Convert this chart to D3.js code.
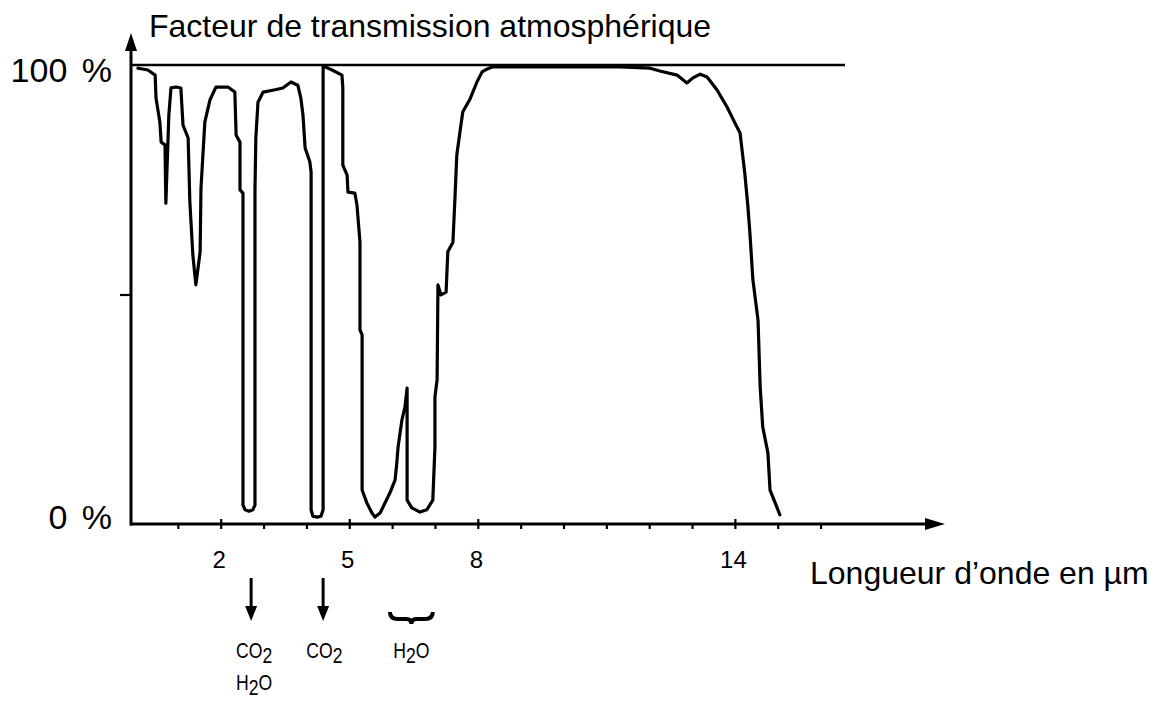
<!DOCTYPE html>
<html>
<head>
<meta charset="utf-8">
<script src="https://cdn.jsdelivr.net/npm/d3@7"></script>
<style>
  html, body { margin: 0; padding: 0; background: #fff; }
  svg { display: block; }
  text { font-family: "Liberation Sans", Arial, sans-serif; fill: #000; }
</style>
</head>
<body>
<svg id="chart" width="1167" height="702"></svg>
<script>
// ---- data ----
const wavelength = [0.07,0.30,0.47,0.49,0.58,0.61,0.70,0.72,0.79,0.84,0.96,1.07,1.12,1.24,1.28,1.35,1.42,1.52,1.54,1.63,1.75,1.89,2.17,2.33,2.36,2.45,2.45,2.52,2.52,2.57,2.66,2.75,2.80,2.80,2.82,2.87,2.99,3.27,3.45,3.64,3.80,3.87,3.92,3.97,4.08,4.11,4.11,4.15,4.25,4.34,4.39,4.39,4.43,4.60,4.83,4.85,4.85,4.95,4.97,5.13,5.18,5.25,5.25,5.30,5.30,5.41,5.53,5.60,5.72,5.95,6.07,6.11,6.14,6.23,6.30,6.35,6.35,6.46,6.65,6.81,6.95,7.00,7.00,7.05,7.07,7.14,7.26,7.30,7.42,7.47,7.51,7.58,7.65,7.82,7.98,8.10,8.21,8.35,8.98,11.32,12.02,12.25,12.65,12.88,13.02,13.19,13.35,13.58,13.82,14.00,14.12,14.23,14.30,14.35,14.42,14.54,14.59,14.65,14.77,14.82,14.94,15.05];
const transmission = [99.3,98.9,97.8,92.8,87.6,83.2,82.6,69.9,89.1,95.0,95.2,95.0,86.9,84.1,70.2,58.6,52.1,59.3,73.2,87.6,92.4,95.2,95.2,94.1,84.7,83.2,72.8,72.1,4.1,3.1,2.8,3.1,4.1,72.8,84.1,91.9,94.1,94.6,95.0,96.3,95.6,92.8,89.1,81.9,78.9,76.7,3.1,1.7,1.5,1.7,3.1,99.8,99.6,98.9,97.8,95.0,78.2,76.0,72.3,72.1,69.5,61.4,42.3,41.2,7.4,4.6,2.4,1.5,2.4,6.8,9.6,13.3,16.8,22.7,25.5,29.6,5.2,3.5,2.6,3.1,5.2,16.8,27.7,31.4,52.1,49.9,50.5,59.3,61.4,71.7,80.4,85.2,89.8,92.6,96.3,98.5,99.1,99.6,99.6,99.6,99.3,98.7,97.8,96.1,97.2,98.0,97.4,94.6,90.8,87.4,85.2,76.5,69.5,63.4,53.2,44.4,29.8,21.1,15.5,7.4,4.6,2.0];
const minorTicks = [1,2,3,4,5,6,7,8,9,10,11,12,13,14,15,16];
const majorTicks = [2,5,8,14];
const yTickValues = [0, 100];
const yTickLabels = ["0 %", "100 %"];
const yMidTick = [50];
const titleText = "Facteur de transmission atmosphérique";
const xAxisTitle = "Longueur d’onde en µm";
const arrowBands = [2.71, 4.39];           // single absorption lines
const braceBand = [5.95, 6.95];            // H2O band
const bandLabels = [
  { x: 2.78, lines: [["CO", "2", ""], ["H", "2", "O"]] },
  { x: 4.42, lines: [["CO", "2", ""]] },
  { x: 6.45, lines: [["H", "2", "O"]] }
];

// ---- layout ----
const svg = d3.select("#chart");
const x = d3.scaleLinear().domain([0, 16]).range([135, 820.6]);
const y = d3.scaleLinear().domain([0, 100]).range([524, 65]);
const axisLeftX = 131;
const xAxisEnd = 945;
const yAxisTop = 33;

// 100 % reference line
svg.append("line")
  .attr("x1", axisLeftX).attr("x2", 845)
  .attr("y1", y(100)).attr("y2", y(100))
  .attr("stroke", "#000").attr("stroke-width", 2.6);

// x axis line + arrow
svg.append("line")
  .attr("x1", axisLeftX - 1).attr("x2", xAxisEnd - 15)
  .attr("y1", y(0)).attr("y2", y(0))
  .attr("stroke", "#000").attr("stroke-width", 3);
svg.append("path")
  .attr("d", `M${xAxisEnd},${y(0)} L${xAxisEnd - 20},${y(0) - 6} L${xAxisEnd - 20},${y(0) + 6} Z`)
  .attr("fill", "#000");

// y axis line + arrow
svg.append("line")
  .attr("x1", axisLeftX).attr("x2", axisLeftX)
  .attr("y1", y(0) + 1.5).attr("y2", yAxisTop + 14)
  .attr("stroke", "#000").attr("stroke-width", 3);
svg.append("path")
  .attr("d", `M${axisLeftX},${yAxisTop} L${axisLeftX - 6},${yAxisTop + 18} L${axisLeftX + 6},${yAxisTop + 18} Z`)
  .attr("fill", "#000");

// ticks on x axis
const minorAxis = svg.append("g")
  .attr("transform", `translate(0,${y(0)})`)
  .call(d3.axisBottom(x).tickValues(minorTicks).tickSize(5).tickFormat(""));
minorAxis.select(".domain").remove();
minorAxis.selectAll("line").attr("stroke-width", 2.2);

const majorUp = svg.append("g")
  .attr("transform", `translate(0,${y(0)})`)
  .call(d3.axisTop(x).tickValues(majorTicks).tickSize(5).tickFormat(""));
majorUp.select(".domain").remove();
majorUp.selectAll("line").attr("stroke-width", 2.2);

const labelAxis = svg.append("g")
  .attr("transform", `translate(0,${y(0)})`)
  .call(d3.axisBottom(x).tickValues(majorTicks).tickSize(0).tickFormat(d3.format("d")));
labelAxis.select(".domain").remove();
labelAxis.selectAll("text")
  .attr("font-size", 24)
  .attr("font-family", "Liberation Sans, Arial, sans-serif")
  .attr("dy", 0)
  .attr("dx", -2)
  .attr("y", 44);

// y mid tick
const yAxisG = svg.append("g")
  .attr("transform", `translate(${axisLeftX},0)`)
  .call(d3.axisLeft(y).tickValues(yMidTick).tickSize(11).tickFormat(""));
yAxisG.select(".domain").remove();
yAxisG.selectAll("line").attr("stroke-width", 2.2);

// y tick labels
svg.selectAll(".ylab").data(yTickValues).enter().append("text")
  .attr("class", "ylab")
  .attr("x", 112)
  .attr("y", d => d === 100 ? y(d) + 17 : y(d) + 5)
  .attr("text-anchor", "end")
  .attr("font-size", 34)
  .attr("word-spacing", 5)
  .text((d, i) => yTickLabels[i]);

// title & x title
svg.append("text").attr("x", 149).attr("y", 37).attr("font-size", 32).text(titleText);
svg.append("text").attr("x", 810).attr("y", 584).attr("font-size", 32).text(xAxisTitle);

// transmission curve
const line = d3.line().x(d => x(d[0])).y(d => y(d[1]));
const pts = wavelength.map((w, i) => [w, transmission[i]]);
svg.append("path")
  .datum(pts)
  .attr("d", line)
  .attr("fill", "none")
  .attr("stroke", "#000")
  .attr("stroke-width", 3.2)
  .attr("stroke-linejoin", "round")
  .attr("stroke-linecap", "round");

// arrows under single lines
arrowBands.forEach(b => {
  const cx = x(b);
  svg.append("line").attr("x1", cx).attr("x2", cx).attr("y1", 578).attr("y2", 608)
    .attr("stroke", "#000").attr("stroke-width", 3);
  svg.append("path").attr("d", `M${cx - 6},${606} L${cx + 6},${606} L${cx},${621} Z`).attr("fill", "#000");
});

// brace under H2O band
{
  const x1 = x(braceBand[0]), x2 = x(braceBand[1]), xm = (x1 + x2) / 2;
  const yb = 619;
  svg.append("path")
    .attr("d", `M${x1},${yb - 7} Q${x1},${yb} ${x1 + 8},${yb} L${xm - 5},${yb} Q${xm},${yb} ${xm},${yb + 5} Q${xm},${yb} ${xm + 5},${yb} L${x2 - 8},${yb} Q${x2},${yb} ${x2},${yb - 7}`)
    .attr("fill", "none").attr("stroke", "#000").attr("stroke-width", 4);
}

// band labels (condensed sans)
bandLabels.forEach(lab => {
  lab.lines.forEach((ln, k) => {
    const g = svg.append("g").attr("transform", `translate(${x(lab.x)},${658 + k * 32}) scale(0.8,1)`);
    const t = g.append("text").attr("text-anchor", "middle").attr("font-size", 22);
    t.append("tspan").text(ln[0]);
    t.append("tspan").attr("dy", 5).text(ln[1]);
    if (ln[2]) t.append("tspan").attr("dy", -5).text(ln[2]);
  });
});
</script>
</body>
</html>
